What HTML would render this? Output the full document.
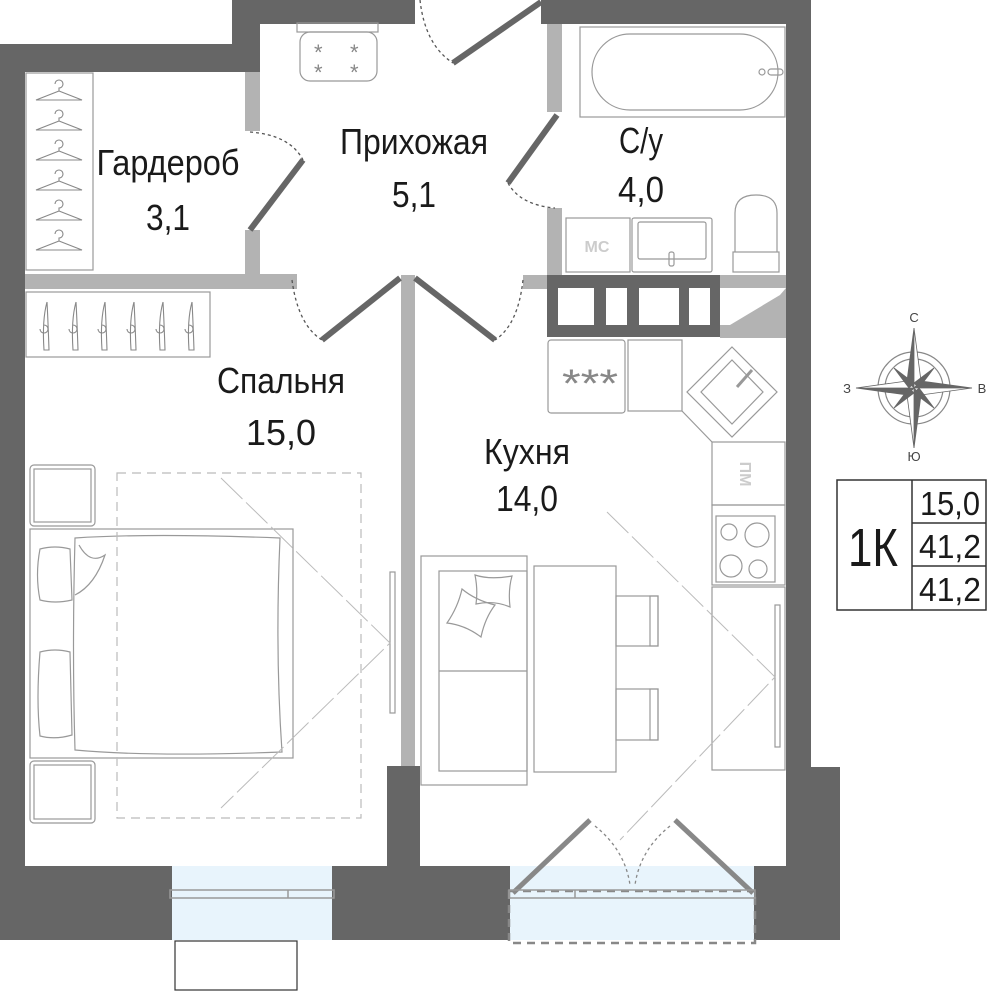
<!DOCTYPE html>
<html><head><meta charset="utf-8"><style>
html,body{margin:0;padding:0;background:#fff}
svg{display:block}
text{font-family:"Liberation Sans",sans-serif;fill:#1a1a1a}
</style></head><body>
<svg width="1000" height="1000" viewBox="0 0 1000 1000" xmlns="http://www.w3.org/2000/svg">
<rect x="172" y="866" width="160" height="74" fill="#e8f4fc"/>
<rect x="510" y="866" width="244" height="74" fill="#e8f4fc"/>
<g fill="#666">
<rect x="0" y="44" width="25" height="896"/>
<rect x="0" y="44" width="260" height="28"/>
<rect x="232" y="0" width="183" height="24"/>
<rect x="232" y="0" width="28" height="72"/>
<rect x="541" y="0" width="270" height="24"/>
<rect x="786" y="0" width="25" height="940"/>
<rect x="786" y="767" width="54" height="173"/>
<rect x="0" y="866" width="172" height="74"/>
<rect x="332" y="866" width="178" height="74"/>
<rect x="387" y="766" width="33" height="110"/>
<rect x="754" y="866" width="86" height="74"/>
<rect x="547" y="275" width="173" height="62"/>
</g>
<g fill="#fff">
<rect x="558" y="288" width="36" height="37"/><rect x="606" y="288" width="21" height="37"/>
<rect x="639" y="288" width="40" height="37"/><rect x="689" y="288" width="21" height="37"/>
</g>
<g fill="#b3b3b3">
<rect x="245" y="72" width="15" height="59"/>
<rect x="245" y="230" width="15" height="45"/>
<rect x="25" y="274" width="272" height="15"/>
<rect x="401" y="275" width="14" height="491"/>
<rect x="547" y="24" width="15" height="88"/>
<rect x="547" y="208" width="15" height="67"/>
<rect x="523" y="275" width="24" height="14"/>
<rect x="720" y="275" width="66" height="13"/>
<rect x="720" y="325" width="66" height="13"/>
<polygon points="786,288 786,325 730,325 780,295"/>
</g>
<g stroke="#666" stroke-width="6" fill="none">
<line x1="541" y1="2" x2="453" y2="63"/>
<line x1="303" y1="160" x2="250" y2="230"/>
<line x1="557" y1="115" x2="508" y2="183"/>
<line x1="400" y1="278" x2="322" y2="340"/>
<line x1="415" y1="278" x2="495" y2="340"/>
</g>
<g stroke="#555" stroke-width="1.3" stroke-dasharray="3,3" fill="none">
<path d="M420,0 Q425,45 453,63"/>
<path d="M250,132 Q290,135 303,160"/>
<path d="M508,183 Q520,205 555,208"/>
<path d="M292,280 Q298,325 322,340"/>
<path d="M523,280 Q518,325 495,340"/>
</g>
<g stroke="#888" stroke-width="5"><line x1="513" y1="893" x2="590" y2="820"/><line x1="753" y1="893" x2="675" y2="820"/></g>
<g stroke="#888" stroke-width="1.3" stroke-dasharray="3,3" fill="none"><path d="M595,826 Q625,850 630,885"/><path d="M670,826 Q640,850 635,885"/></g>
<rect x="509" y="891" width="246" height="52" fill="none" stroke="#888" stroke-width="2.5" stroke-dasharray="8,6"/>
<g fill="none" stroke="#999" stroke-width="1.5">
<rect x="509" y="890" width="246" height="8"/><line x1="575" y1="890" x2="575" y2="898"/>
<rect x="170" y="890" width="164" height="8"/><line x1="288" y1="890" x2="288" y2="898"/>
</g>
<rect x="175" y="941" width="122" height="49" fill="none" stroke="#333" stroke-width="1.2"/>
<g fill="none" stroke="#999" stroke-width="1.2">
<rect x="26" y="73" width="67" height="197"/>
<rect x="26" y="292" width="184" height="65"/>
<rect x="297" y="23" width="81" height="9"/>
<rect x="300" y="32" width="77" height="49" rx="10"/>
<rect x="580" y="27" width="205" height="90"/>
<rect x="592" y="34" width="186" height="76" rx="38"/>
<circle cx="762" cy="72" r="3"/><rect x="768" y="69" width="15" height="6" rx="3"/>
<rect x="566" y="218" width="64" height="54"/>
<rect x="632" y="218" width="80" height="54" rx="2"/>
<rect x="638" y="222" width="68" height="37" rx="2"/>
<rect x="669" y="252" width="5" height="14" rx="2"/>
<path d="M735,252 L735,213 Q735,195 756,195 Q777,195 777,213 L777,252"/>
<rect x="733" y="252" width="46" height="20"/>
<rect x="548" y="340" width="77" height="73" rx="3"/>
<rect x="628" y="340" width="54" height="71"/>
<polygon points="732,347 777,392 732,437 687,392"/>
<polygon points="732,360 763,392 732,424 701,392"/>
<line x1="752" y1="370" x2="737" y2="387" stroke-width="3"/>
<line x1="682" y1="411" x2="712" y2="442"/>
<rect x="712" y="442" width="73" height="63"/>
<rect x="712" y="505" width="73" height="80"/>
<rect x="716" y="516" width="59" height="66"/>
<circle cx="729" cy="532" r="8"/><circle cx="757" cy="535" r="12"/>
<circle cx="731" cy="566" r="11"/><circle cx="758" cy="569" r="9"/>
<rect x="712" y="587" width="73" height="183"/>
<rect x="775" y="605" width="5" height="142"/>
<rect x="421" y="556" width="106" height="229"/>
<rect x="439" y="571" width="88" height="200"/>
<line x1="439" y1="671" x2="527" y2="671"/>
<path d="M475,575 Q490,580 512,576 Q508,590 510,607 Q494,600 476,604 Q478,590 475,575Z"/>
<path d="M462,589 Q475,600 495,605 Q485,618 481,637 Q465,625 447,623 Q458,607 462,589Z"/>
<rect x="534" y="566" width="82" height="206"/>
<rect x="616" y="596" width="42" height="50"/><rect x="650" y="596" width="8" height="50"/>
<rect x="616" y="689" width="42" height="51"/><rect x="650" y="689" width="8" height="51"/>
<rect x="30" y="465" width="65" height="61" rx="4"/><rect x="34" y="469" width="57" height="53"/>
<rect x="30" y="761" width="65" height="62" rx="4"/><rect x="34" y="765" width="57" height="54"/>
<rect x="30" y="529" width="263" height="229"/>
<path d="M75,538 Q150,533 280,538 Q275,650 282,752 Q150,757 75,750 Q72,650 75,538Z"/>
<path d="M79,545 Q90,565 105,555 Q95,585 75,595"/>
<path d="M40,549 Q55,545 70,549 L72,600 Q55,604 40,600 Q35,575 40,549Z"/>
<path d="M40,652 Q55,648 70,652 L72,735 Q55,740 40,736 Q36,700 40,652Z"/>
<rect x="390" y="572" width="5" height="141"/>
</g>
<g fill="none" stroke="#bbb" stroke-width="1.2" stroke-dasharray="9,6">
<rect x="117" y="473" width="244" height="345"/>
</g>
<g fill="none" stroke="#bbb" stroke-width="1" stroke-dasharray="30,5">
<polyline points="221,478 390,643 221,808"/>
<polyline points="607,512 775,677 620,840"/>
</g>
<g fill="none" stroke="#888" stroke-width="1.1">
<path id="h" d="M55,84 a4,4 0 1 1 4,4 v3 L36,100 H82 L59,91"/>
<use href="#h" y="30"/><use href="#h" y="60"/><use href="#h" y="90"/><use href="#h" y="120"/><use href="#h" y="150"/>
<g id="v"><path d="M47,302 Q42,320 44,350 L49,350 Q48,320 47,302 M44,325 a4,4 0 1 1 -4,4"/></g>
<use href="#v" x="29"/><use href="#v" x="58"/><use href="#v" x="87"/><use href="#v" x="116"/><use href="#v" x="145"/>
</g>
<text x="562" y="397" font-size="40" style="fill:#888" textLength="56" lengthAdjust="spacingAndGlyphs">***</text>
<g font-size="22" style="fill:#888"><text x="314" y="60" style="fill:#888">*</text><text x="350" y="60" style="fill:#888">*</text><text x="314" y="80" style="fill:#888">*</text><text x="350" y="80" style="fill:#888">*</text></g>
<text x="597" y="252" font-size="16" font-weight="bold" text-anchor="middle" style="fill:#ccc">МС</text>
<text transform="translate(740,474) rotate(90)" font-size="16" font-weight="bold" text-anchor="middle" style="fill:#ccc">ПМ</text>
<g font-size="36" text-anchor="middle">
<text x="168" y="175" textLength="143" lengthAdjust="spacingAndGlyphs">Гардероб</text>
<text x="168" y="230" textLength="44" lengthAdjust="spacingAndGlyphs">3,1</text>
<text x="414" y="154" textLength="148" lengthAdjust="spacingAndGlyphs">Прихожая</text>
<text x="414" y="207" textLength="44" lengthAdjust="spacingAndGlyphs">5,1</text>
<text x="641" y="153" textLength="44" lengthAdjust="spacingAndGlyphs">С/у</text>
<text x="641" y="202" textLength="46" lengthAdjust="spacingAndGlyphs">4,0</text>
<text x="281" y="393" textLength="128" lengthAdjust="spacingAndGlyphs">Спальня</text>
<text x="281" y="445" textLength="70" lengthAdjust="spacingAndGlyphs">15,0</text>
<text x="527" y="464" textLength="86" lengthAdjust="spacingAndGlyphs">Кухня</text>
<text x="527" y="511" textLength="62" lengthAdjust="spacingAndGlyphs">14,0</text>
</g>
<g transform="translate(914,388)">
<circle r="36" fill="none" stroke="#888" stroke-width="1.2"/>
<circle r="29" fill="none" stroke="#888" stroke-width="1.2"/>
<g fill="#666" stroke="#666" stroke-width="0.8">
<polygon points="0,-60 -7,-7 0,0"/><polygon points="0,-60 7,-7 0,0" fill="#fff"/>
<polygon points="0,60 7,7 0,0"/><polygon points="0,60 -7,7 0,0" fill="#fff"/>
<polygon points="58,0 7,-7 0,0"/><polygon points="58,0 7,7 0,0" fill="#fff"/>
<polygon points="-58,0 -7,7 0,0"/><polygon points="-58,0 -7,-7 0,0" fill="#fff"/>
<polygon points="-20,-20 0,-5 -5,0"/><polygon points="20,-20 5,0 0,-5"/>
<polygon points="20,20 0,5 5,0"/><polygon points="-20,20 -5,0 0,5"/>
</g>
<g font-size="13" text-anchor="middle">
<text x="0" y="-66" style="fill:#444">С</text><text x="68" y="5" style="fill:#444">В</text>
<text x="0" y="73" style="fill:#444">Ю</text><text x="-67" y="5" style="fill:#444">З</text>
</g>
</g>
<g fill="none" stroke="#333" stroke-width="1.5">
<rect x="837" y="480" width="149" height="130"/>
<line x1="912" y1="480" x2="912" y2="610"/>
<line x1="912" y1="523" x2="986" y2="523"/>
<line x1="912" y1="566" x2="986" y2="566"/>
</g>
<text x="873" y="566" font-size="54" text-anchor="middle" textLength="50" lengthAdjust="spacingAndGlyphs">1К</text>
<g font-size="33" text-anchor="middle">
<text x="950" y="515" textLength="60" lengthAdjust="spacingAndGlyphs">15,0</text>
<text x="950" y="558" textLength="62" lengthAdjust="spacingAndGlyphs">41,2</text>
<text x="950" y="601" textLength="62" lengthAdjust="spacingAndGlyphs">41,2</text>
</g>
</svg>
</body></html>
